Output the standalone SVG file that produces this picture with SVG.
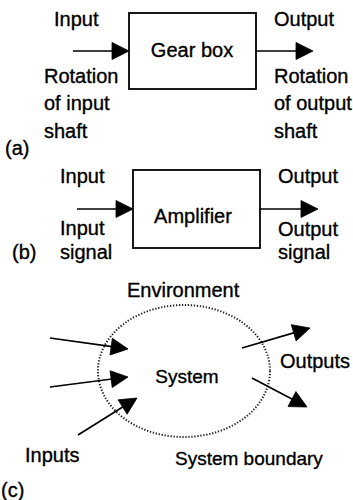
<svg xmlns="http://www.w3.org/2000/svg" width="353" height="500" viewBox="0 0 353 500">
<defs>
<style>
text{font-family:"Liberation Sans",Arial,sans-serif;font-size:20px;fill:#000;stroke:#000;stroke-width:0.35}
.sm{font-size:19px}
.box{fill:#fff;stroke:#000;stroke-width:1.8}
.c{stroke:#000;stroke-width:1.7;fill:none}
.ah{fill:#000;stroke:#000;stroke-width:0.8;stroke-linejoin:miter}
.dot{fill:none;stroke:#222;stroke-width:2;stroke-dasharray:1.3 1.7}
</style>
</defs>
<rect width="353" height="500" fill="#fff"/>

<g id="gearbox">
<rect class="box" x="129" y="13" width="127" height="76"/>
<text x="192" y="57" text-anchor="middle">Gear box</text>
</g>
<g id="labels-a">
<text x="54" y="26">Input</text>
<text x="44" y="83">Rotation</text>
<text x="44" y="110">of input</text>
<text x="44" y="138">shaft</text>
<text x="274" y="26">Output</text>
<text x="274" y="83">Rotation</text>
<text x="274" y="110">of output</text>
<text x="274" y="138">shaft</text>
<text x="5" y="155">(a)</text>
</g>

<g id="amplifier">
<rect class="box" x="133" y="170" width="127" height="78"/>
<text x="193" y="223" text-anchor="middle">Amplifier</text>
</g>
<g id="labels-b">
<text x="60" y="183">Input</text>
<text x="60" y="235">Input</text>
<text x="60" y="259">signal</text>
<text x="278" y="183">Output</text>
<text x="278" y="236">Output</text>
<text x="278" y="259">signal</text>
<text x="12" y="259">(b)</text>
</g>

<g id="system">
<ellipse class="dot" cx="184" cy="371" rx="86" ry="66"/>
<text class="sm" x="187" y="383" text-anchor="middle">System</text>
</g>
<g id="labels-c">
<text x="127" y="297">Environment</text>
<text x="280" y="368">Outputs</text>
<text x="25" y="462">Inputs</text>
<text class="sm" x="175" y="465">System boundary</text>
<text x="1" y="497">(c)</text>
</g>

<g id="connectors">
<line class="c" x1="73" y1="51" x2="113" y2="51"/>
<polygon class="ah" points="112,42.5 129,51 112,59.5"/>
<line class="c" x1="256" y1="51" x2="297" y2="51"/>
<polygon class="ah" points="296,42.5 313,51 296,59.5"/>
<line class="c" x1="77" y1="209" x2="117" y2="209"/>
<polygon class="ah" points="116,200.5 133,209 116,217.5"/>
<line class="c" x1="260" y1="209" x2="302" y2="209"/>
<polygon class="ah" points="301,200.5 318,209 301,217.5"/>
<line class="c" x1="50" y1="338" x2="112" y2="346.7"/>
<polygon class="ah" points="112.36,338.21 128,349 109.98,355.05"/>
<line class="c" x1="50" y1="387" x2="112" y2="379"/>
<polygon class="ah" points="110.06,370.73 128,377 112.22,387.59"/>
<line class="c" x1="78" y1="435" x2="123.5" y2="406.5"/>
<polygon class="ah" points="118.08,399.83 137,398 127.12,414.23"/>
<line class="c" x1="242" y1="348" x2="294.5" y2="332.6"/>
<polygon class="ah" points="291.29,324.65 310,328 296.09,340.95"/>
<line class="c" x1="252" y1="378" x2="292.8" y2="399.5"/>
<polygon class="ah" points="295.92,391.55 307,407 288,406.59"/>
</g>
</svg>
